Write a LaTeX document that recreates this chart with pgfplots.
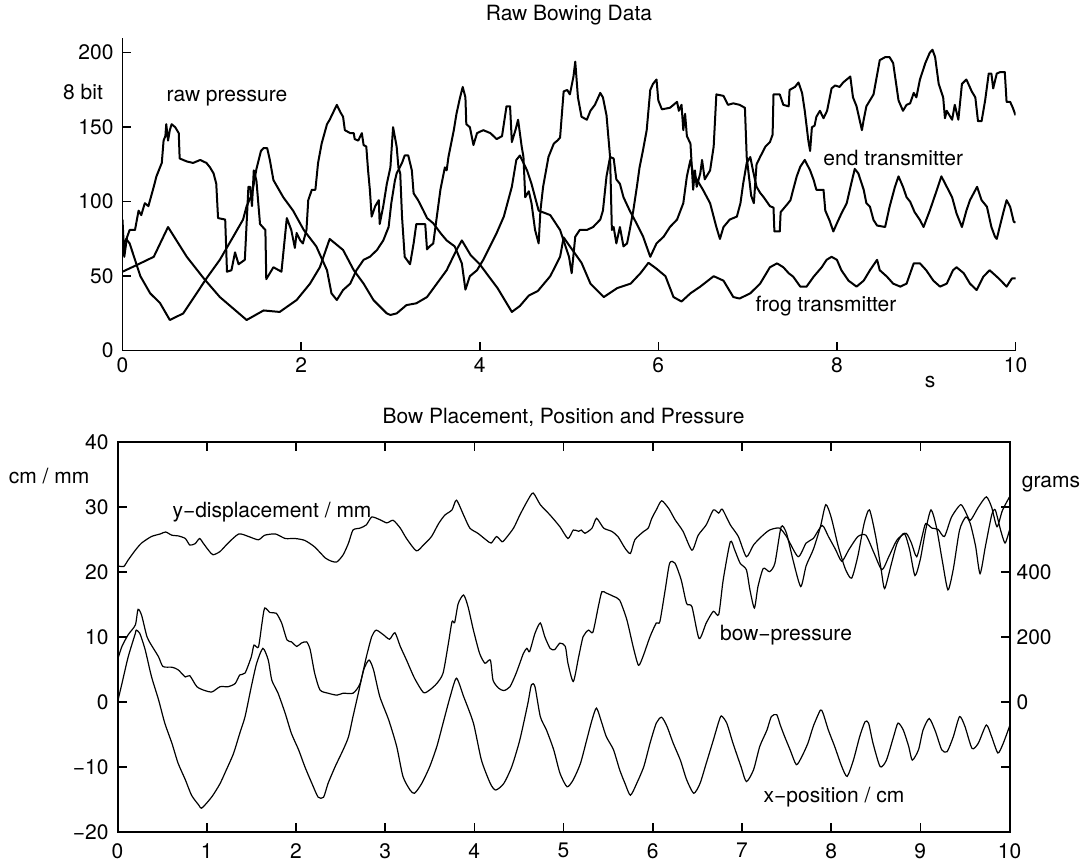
\documentclass[border=0pt]{standalone}
\usepackage{fontspec}
\setmainfont{TeX Gyre Heros}
\usepackage{pgfplots}
\pgfplotsset{compat=1.18}
\newcommand\fs{\fontsize{10.5}{12.6}\selectfont}
\begin{document}
\begin{tikzpicture}
\useasboundingbox (0,0) rectangle (543pt,432.5pt);
% ---------------- top axis ----------------
\begin{axis}[
  at={(61.25pt,257.15pt)}, anchor=south west,
  scale only axis, width=446.5pt, height=156.45pt,
  xmin=0, xmax=10, ymin=0, ymax=210,
  axis lines=left, axis line style={-, line width=0.8pt},
  tick align=inside, major tick length=4.5pt, tick style={line width=0.8pt, black},
  xtick={0,2,4,6,8,10}, ytick={0,50,100,150,200},
  xticklabels={0,2,4,6,8,10}, yticklabels={0,50,100,150,200},
  ticklabel style={font=\fs},
  yticklabel style={xshift=-1pt},
]
% raw pressure
\addplot[black, line width=1pt, line join=round] coordinates {
(0,88)(0.02,63)(0.05,76)(0.08,81)(0.14,81)(0.18,94)(0.21,91)(0.25,99)(0.29,97)(0.35,110)(0.38,117)(0.42,123)(0.44,126)(0.46,141)(0.48,144)(0.49,152)(0.51,141)(0.53,148)(0.55,152)(0.59,150)(0.63,146)(0.64,129)(0.72,127)(0.79,126)(0.87,128)(0.94,126)(0.98,123)(1.02,119)(1.05,112)(1.07,89)(1.15,88)(1.17,53)(1.22,54)(1.26,66)(1.3,58)(1.37,61)(1.41,110)(1.43,110)(1.45,97)(1.47,121)(1.5,114)(1.54,85)(1.6,81)(1.61,48)(1.69,56)(1.78,53)(1.84,89)(1.89,81)(1.93,69)(1.95,79)(1.99,74)(2.02,72)(2.06,81)(2.08,101)(2.12,108)(2.16,108)(2.19,126)(2.23,139)(2.29,152)(2.32,155)(2.4,165)(2.44,160)(2.47,157)(2.49,148)(2.55,146)(2.59,146)(2.6,142)(2.64,141)(2.68,146)(2.7,138)(2.73,137)(2.75,121)(2.77,108)(2.79,90)(2.83,97)(2.87,101)(2.88,85)(2.92,97)(2.96,112)(3.0,123)(3.03,150)(3.07,137)(3.09,123)(3.11,119)(3.13,90)(3.16,63)(3.22,58)(3.26,72)(3.29,85)(3.39,85)(3.41,68)(3.44,70)(3.48,72)(3.52,90)(3.56,108)(3.59,117)(3.61,123)(3.63,121)(3.65,130)(3.71,148)(3.74,159)(3.78,170)(3.81,177)(3.84,170)(3.85,152)(3.89,150)(3.93,138)(3.97,146)(4.04,148)(4.12,146)(4.19,142)(4.25,144)(4.3,164)(4.34,164)(4.36,140)(4.4,148)(4.43,155)(4.47,137)(4.49,130)(4.51,103)(4.55,107)(4.58,99)(4.62,81)(4.66,72)(4.68,94)(4.71,110)(4.77,130)(4.83,139)(4.87,141)(4.9,143)(4.94,174)(4.98,175)(5.01,172)(5.05,184)(5.07,194)(5.1,170)(5.14,157)(5.2,155)(5.24,161)(5.29,165)(5.35,173)(5.38,170)(5.42,158)(5.46,130)(5.48,81)(5.5,83)(5.53,72)(5.57,83)(5.61,70)(5.65,72)(5.68,81)(5.72,94)(5.76,110)(5.79,123)(5.83,135)(5.87,148)(5.91,175)(5.94,179)(5.98,182)(6.0,168)(6.04,162)(6.13,163)(6.21,167)(6.23,161)(6.26,165)(6.28,148)(6.3,159)(6.32,144)(6.36,139)(6.39,108)(6.41,121)(6.43,110)(6.47,119)(6.49,128)(6.52,115)(6.58,121)(6.62,137)(6.65,172)(6.73,171)(6.78,165)(6.84,166)(6.91,165)(6.97,163)(6.99,130)(7.04,104)(7.07,99)(7.1,125)(7.14,130)(7.2,137)(7.25,140)(7.28,145)(7.29,172)(7.36,172)(7.4,165)(7.46,164)(7.47,175)(7.53,177)(7.57,180)(7.61,173)(7.64,161)(7.68,141)(7.7,134)(7.72,150)(7.75,151)(7.77,157)(7.81,161)(7.85,156)(7.89,161)(7.94,176)(7.98,178)(8.03,177)(8.07,180)(8.11,182)(8.15,184)(8.18,170)(8.22,164)(8.28,148)(8.3,155)(8.33,164)(8.37,168)(8.41,172)(8.48,195)(8.54,197)(8.59,197)(8.63,193)(8.69,168)(8.74,161)(8.78,165)(8.82,166)(8.86,173)(8.89,170)(8.93,182)(8.99,193)(9.04,200)(9.07,202)(9.1,197)(9.14,179)(9.19,170)(9.21,156)(9.23,161)(9.29,155)(9.32,165)(9.36,155)(9.4,179)(9.45,182)(9.51,174)(9.55,170)(9.58,154)(9.62,154)(9.66,168)(9.7,186)(9.73,186)(9.75,176)(9.79,186)(9.83,187)(9.88,187)(9.9,167)(9.94,167)(9.97,163)(10,158)
};
% end transmitter
\addplot[black, line width=1pt, line join=round] coordinates {
(0,70)(0.04,75)(0.08,72)(0.2,50)(0.31,38.5)(0.42,32)(0.53,20.6)(0.68,25)(0.83,38.5)(0.94,48.5)(1.09,61)(1.24,76.5)(1.35,88)(1.39,97)(1.45,105)(1.5,122)(1.55,134)(1.58,136)(1.62,136)(1.65,128)(1.69,114.5)(1.8,103)(1.91,94)(2.03,81)(2.17,70)(2.29,54)(2.34,38.5)(2.4,34)(2.47,40.7)(2.55,45)(2.62,54)(2.7,61)(2.77,63)(2.85,67.6)(2.92,74)(2.98,83)(3.01,99)(3.05,114)(3.07,119)(3.13,126)(3.16,131)(3.2,131)(3.24,121)(3.26,105.6)(3.31,101)(3.37,94)(3.41,89)(3.48,85.5)(3.56,79)(3.63,74)(3.72,70)(3.8,58.6)(3.84,41)(3.89,50)(3.97,54)(4.04,61)(4.19,79)(4.27,90)(4.36,110)(4.41,128)(4.45,131)(4.49,126)(4.53,121)(4.58,112)(4.62,103)(4.66,94)(4.79,91)(4.9,81)(5.0,63)(5.03,52)(5.07,76.5)(5.12,81)(5.2,81)(5.27,83)(5.35,88)(5.38,94)(5.42,117)(5.46,130)(5.5,129)(5.53,115)(5.57,112)(5.61,103)(5.68,94)(5.76,85)(5.83,76.5)(5.91,63)(5.98,72)(6.06,76.5)(6.13,83)(6.21,88)(6.28,99)(6.32,117)(6.36,128)(6.39,119)(6.43,115)(6.5,108)(6.58,99)(6.65,83)(6.69,75)(6.73,83)(6.8,88)(6.88,90)(6.92,99)(6.95,112)(6.99,126)(7.03,130)(7.06,121)(7.1,110)(7.14,106)(7.18,103)(7.25,97)(7.29,96)(7.3,80)(7.36,80)(7.37,93)(7.44,98)(7.48,101)(7.51,108)(7.55,117)(7.59,123.5)(7.64,128)(7.7,121)(7.74,114.5)(7.77,108)(7.85,108)(7.87,94)(7.92,87)(7.96,80)(8.0,85.5)(8.05,92)(8.11,99)(8.16,112)(8.2,122)(8.24,119)(8.3,108)(8.33,99)(8.37,96.6)(8.41,87.7)(8.45,84)(8.54,83)(8.59,96.6)(8.65,110)(8.69,117)(8.74,110)(8.78,103)(8.82,100)(8.87,93)(8.93,87.7)(8.97,83)(9.04,94)(9.12,108)(9.17,117)(9.23,110)(9.29,103)(9.34,92)(9.4,83)(9.45,94)(9.49,101)(9.57,110)(9.62,101)(9.68,96.6)(9.73,83)(9.77,76.5)(9.79,75)(9.86,92)(9.9,101)(9.94,96.6)(9.98,86.6)(10,86)
};
% frog transmitter
\addplot[black, line width=1pt, line join=round] coordinates {
(0,53)(0.16,57.5)(0.35,63)(0.51,83)(0.72,63)(0.91,48.5)(1.09,36)(1.39,20.6)(1.58,27)(1.76,26)(1.95,34)(2.1,45)(2.21,56)(2.32,75)(2.47,67.6)(2.59,54)(2.7,45)(2.81,34)(2.96,25)(3.0,24)(3.07,25)(3.18,30.6)(3.29,31.8)(3.41,36)(3.52,45)(3.63,54)(3.74,67.6)(3.8,74)(3.9,64)(4.0,58)(4.1,50)(4.2,42)(4.3,32)(4.36,26)(4.45,30)(4.55,37)(4.65,40)(4.79,50)(4.9,63)(4.94,76)(5.01,70)(5.14,59)(5.24,45)(5.39,36)(5.54,42)(5.69,45)(5.8,52)(5.89,59)(5.98,55)(6.08,50)(6.17,36)(6.26,33)(6.36,38.5)(6.47,43)(6.62,50)(6.73,47)(6.84,36)(6.91,35)(7.03,38.5)(7.14,45)(7.25,56)(7.33,58.6)(7.4,56)(7.46,52)(7.51,49.7)(7.59,43)(7.66,43)(7.74,49.7)(7.83,56)(7.885,61)(7.94,63)(8.0,61)(8.05,54)(8.13,47)(8.22,43)(8.3,47)(8.37,54)(8.45,61)(8.48,54)(8.56,49.7)(8.63,45)(8.71,43)(8.78,45)(8.86,58.6)(8.93,58.6)(9.0,54)(9.08,47)(9.155,43)(9.23,45)(9.3,54)(9.34,56)(9.42,52)(9.49,45)(9.565,40.7)(9.64,49.7)(9.71,54)(9.79,49.7)(9.83,47.4)(9.9,43)(9.96,48.5)(10,48.5)
};
\end{axis}
% ---------------- bottom axis ----------------
\begin{axis}[
  at={(58.75pt,16.35pt)}, anchor=south west,
  scale only axis, width=446pt, height=195pt,
  xmin=0, xmax=10, ymin=-20, ymax=40,
  axis line style={line width=1pt},
  tick align=inside, major tick length=4.5pt, tick style={line width=0.8pt, black},
  xtick={0,1,2,3,4,5,6,7,8,9,10}, xticklabels={0,1,2,3,4,5,6,7,8,9,10},
  ytick={-20,-10,0,10,20,30,40}, yticklabels={−20,−10,0,10,20,30,40},
  xtick pos=both, ytick pos=left,
  ticklabel style={font=\fs},
  xticklabel style={yshift=-2pt},
  yticklabel style={xshift=-1pt},
]
% y-displacement
\addplot[black, line width=0.6pt, smooth, tension=0.4] coordinates {
(0,21)(0.07,20.9)(0.12,21.9)(0.2,23.4)(0.27,24.5)(0.38,25.5)(0.48,25.9)(0.54,26.2)(0.61,25.7)(0.68,25.6)(0.76,25.2)(0.81,24.2)(0.87,24.4)(0.92,25.2)(0.96,24.5)(1.02,23.4)(1.07,22.7)(1.15,23.2)(1.24,24.5)(1.36,25.9)(1.47,25.5)(1.58,25)(1.65,25.7)(1.77,25.9)(1.88,25.2)(1.99,25.2)(2.1,24.9)(2.21,23.9)(2.33,22.2)(2.4,21.7)(2.46,21.6)(2.53,22.7)(2.59,24.5)(2.64,26.5)(2.72,26.8)(2.79,27.3)(2.85,28.5)(2.94,28.1)(3.02,27.6)(3.09,28)(3.17,26.8)(3.24,25.2)(3.35,23.3)(3.43,24.2)(3.52,25.5)(3.6,27.5)(3.67,28.8)(3.75,29.6)(3.8,31.1)(3.88,28.8)(3.95,26.8)(4.04,26)(4.14,24.9)(4.19,24.5)(4.25,25.5)(4.31,24.7)(4.34,25)(4.44,26.8)(4.51,28.8)(4.6,31.1)(4.66,32.2)(4.74,30.4)(4.85,28.8)(4.96,27)(5.05,25.2)(5.11,26.5)(5.17,26.3)(5.2,26.5)(5.24,26)(5.32,26.8)(5.37,28.3)(5.45,26.8)(5.54,26.3)(5.61,25.5)(5.69,23.7)(5.75,22.9)(5.8,25)(5.9,26.3)(5.95,26.8)(5.99,28.3)(6.04,29.6)(6.1,31)(6.18,29.8)(6.25,28.1)(6.34,26.3)(6.44,23.4)(6.51,25.7)(6.6,27.3)(6.68,29.6)(6.74,29.1)(6.78,29.7)(6.87,27.3)(6.96,25.5)(7.05,22.4)(7.13,24.2)(7.22,25.5)(7.31,26.5)(7.42,26.8)(7.5,25.5)(7.63,22.4)(7.72,24.5)(7.8,25.2)(7.9,27.2)(7.97,25.5)(8.05,23.5)(8.12,21.7)(8.2,23.5)(8.3,25.5)(8.39,25.7)(8.48,23)(8.57,20.4)(8.65,22.5)(8.74,25)(8.84,26)(8.9,24.5)(8.96,22.4)(9.02,25.5)(9.06,27.5)(9.13,26.8)(9.2,26.6)(9.27,25.5)(9.35,28.5)(9.45,30.4)(9.5,29.5)(9.56,28)(9.65,30)(9.74,31.6)(9.8,30)(9.86,27)(9.92,29.5)(10,31.6)
};
% bow-pressure
\addplot[black, line width=0.6pt, smooth, tension=0.4] coordinates {
(0,6.5)(0.05,8.6)(0.12,10.4)(0.2,11.9)(0.23,14.3)(0.27,13.4)(0.33,10.1)(0.38,8.8)(0.46,7)(0.51,5.5)(0.61,5.4)(0.68,5)(0.76,3.9)(0.81,4.1)(0.89,2.4)(0.98,1.8)(1.06,1.6)(1.15,2.4)(1.24,2.4)(1.32,2.9)(1.37,4.2)(1.43,4.5)(1.5,7)(1.53,8.8)(1.58,8.5)(1.62,12.2)(1.65,14.5)(1.71,13.8)(1.78,13.7)(1.84,12.2)(1.9,9.6)(1.95,9.3)(2.01,8.6)(2.06,9.1)(2.12,9.3)(2.16,8.1)(2.21,4.5)(2.27,1.9)(2.36,1.4)(2.46,1.1)(2.53,1.4)(2.64,1.4)(2.72,2.9)(2.79,7)(2.85,10.1)(2.9,11.1)(2.98,10.4)(3.05,9.7)(3.11,10.7)(3.17,8.6)(3.24,6.5)(3.33,3.7)(3.43,1.5)(3.5,1.9)(3.58,2.9)(3.65,4.5)(3.71,9.1)(3.75,12.4)(3.78,12.3)(3.82,15.2)(3.88,16.5)(3.93,14.7)(3.99,11.1)(4.06,7.5)(4.12,6)(4.18,6.5)(4.21,3.4)(4.27,2.2)(4.33,1.8)(4.4,2.4)(4.47,4.5)(4.55,7.5)(4.59,8.3)(4.62,7.8)(4.68,10.6)(4.74,12.2)(4.79,10.1)(4.85,8.3)(4.9,8.1)(4.96,9.1)(5.02,8.6)(5.05,6)(5.11,3.2)(5.17,7)(5.22,10.1)(5.28,11.1)(5.33,10.8)(5.39,14.7)(5.43,17)(5.48,16.8)(5.56,16.3)(5.63,15.7)(5.71,12.7)(5.78,8.6)(5.84,5.7)(5.89,7)(5.97,10.1)(6.04,12.2)(6.08,12.4)(6.14,17.3)(6.19,21.4)(6.25,21.4)(6.32,18.8)(6.38,15.2)(6.44,14.7)(6.52,9.8)(6.6,12.2)(6.68,14)(6.74,13.5)(6.79,18.8)(6.87,24.7)(6.92,23.4)(6.98,21.4)(7.05,20.4)(7.09,17.3)(7.14,14.5)(7.18,17.8)(7.24,20.6)(7.31,20.1)(7.37,21.4)(7.44,27)(7.5,26)(7.58,21.5)(7.66,17.8)(7.72,21)(7.8,23.5)(7.88,27)(7.94,30.4)(8.0,28.5)(8.08,24)(8.16,20.5)(8.23,19.1)(8.3,22.5)(8.37,27.5)(8.43,29.6)(8.5,25.5)(8.56,20.5)(8.6,17.5)(8.67,21)(8.74,24.5)(8.82,26)(8.88,23.5)(8.94,19.5)(9.0,22)(9.06,26.5)(9.12,29.6)(9.18,27)(9.25,21.5)(9.31,17.3)(9.37,20.5)(9.44,26.5)(9.51,28.5)(9.56,27.5)(9.62,24)(9.67,19.8)(9.73,24)(9.8,28.8)(9.84,29.6)(9.9,26.5)(9.95,24.5)(10,26.5)
};
% x-position
\addplot[black, line width=0.6pt, smooth, tension=0.4] coordinates {
(0,0)(0.05,2.9)(0.12,7)(0.2,10.6)(0.21,11.1)(0.25,10.6)(0.31,8.1)(0.38,4)(0.46,0.4)(0.53,-3.2)(0.61,-6.3)(0.68,-9.4)(0.76,-11.9)(0.83,-14.3)(0.91,-15.8)(0.94,-16.3)(1.0,-15.5)(1.07,-14.3)(1.15,-12.5)(1.22,-10.4)(1.3,-7.9)(1.37,-4.8)(1.43,-2.2)(1.5,2.4)(1.56,6)(1.63,8.3)(1.69,6.5)(1.73,3.4)(1.8,1.4)(1.88,-1.7)(1.95,-4.8)(2.03,-7.3)(2.1,-9.9)(2.18,-12.5)(2.25,-14.6)(2.31,-14.6)(2.36,-12.5)(2.44,-9.9)(2.53,-7.3)(2.59,-5.3)(2.64,-2.2)(2.7,1.4)(2.76,5)(2.82,6.5)(2.87,5)(2.94,0.9)(3.04,-2.7)(3.13,-6.8)(3.2,-11.4)(3.28,-13.5)(3.33,-14)(3.41,-12.5)(3.5,-9.9)(3.58,-6.8)(3.65,-3.2)(3.73,0.9)(3.8,3.7)(3.88,0.9)(3.99,-3.2)(4.08,-8.9)(4.18,-12.5)(4.24,-13.5)(4.33,-12.5)(4.42,-9.9)(4.51,-5.8)(4.6,-0.2)(4.64,2.7)(4.68,2.4)(4.74,-2.2)(4.81,-4.3)(4.89,-7.3)(4.96,-10.9)(5.04,-13)(5.11,-11.9)(5.19,-9.4)(5.26,-5.8)(5.32,-2.7)(5.37,-0.9)(5.43,-3.2)(5.48,-5.3)(5.56,-7.3)(5.63,-10.4)(5.69,-12.5)(5.75,-14.3)(5.82,-12.5)(5.9,-9.9)(5.97,-6.3)(6.04,-3.2)(6.1,-2.3)(6.16,-3.7)(6.23,-6.3)(6.31,-8.9)(6.38,-11.9)(6.46,-14)(6.53,-12.5)(6.6,-9.4)(6.68,-5.8)(6.74,-3)(6.77,-2.1)(6.83,-3.2)(6.9,-6.3)(6.99,-9.9)(7.05,-12.2)(7.13,-10.4)(7.2,-6.8)(7.28,-4.3)(7.33,-2.2)(7.39,-1.9)(7.43,-3.5)(7.48,-5.3)(7.54,-7.3)(7.61,-9.6)(7.67,-8.4)(7.74,-6.3)(7.8,-3.7)(7.88,-1.2)(7.91,-1.7)(7.97,-4.3)(8.04,-6.8)(8.12,-9.9)(8.18,-11.4)(8.25,-8.9)(8.32,-5.3)(8.38,-3)(8.42,-3.2)(8.47,-6.3)(8.55,-9.9)(8.62,-8.9)(8.7,-5.3)(8.75,-3.2)(8.81,-4.3)(8.87,-6.8)(8.91,-8.9)(8.98,-7.3)(9.03,-4.3)(9.1,-2.5)(9.17,-4.5)(9.24,-7.3)(9.3,-7.6)(9.37,-5.3)(9.44,-2.2)(9.5,-3.7)(9.58,-7.1)(9.65,-6.3)(9.74,-3.5)(9.8,-5.3)(9.87,-7.8)(9.93,-6.3)(10,-3.7)
};
\end{axis}
% right-hand grams scale
\begin{axis}[
  at={(58.75pt,16.35pt)}, anchor=south west,
  scale only axis, width=446pt, height=195pt,
  xmin=0, xmax=10, ymin=-400, ymax=800,
  axis x line=none, axis y line=right, axis line style={-, line width=1pt},
  tick align=inside, major tick length=4.5pt, tick style={line width=0.8pt, black},
  ytick={-200,0,200,400,600}, yticklabels={{},0,200,400,{}},
  ticklabel style={font=\fs},
]
\end{axis}
% ---------------- texts ----------------
\node[font=\fs] at (284.5pt,425pt) {Raw Bowing Data};
\node[font=\fs] at (41.5pt,386.5pt) {8 bit};
\node[font=\fs] at (113.5pt,383.3pt) {raw pressure};
\node[font=\fs] at (446.6pt,353.3pt) {end transmitter};
\node[font=\fs] at (413pt,279.5pt) {frog transmitter};
\node[font=\fs] at (465pt,241.5pt) {s};
\node[font=\fs] at (281.75pt,223.6pt) {Bow Placement, Position and Pressure};
\node[font=\fs] at (24.5pt,194.5pt) {cm / mm};
\node[font=\fs] at (525.5pt,190.5pt) {grams};
\node[font=\fs] at (136pt,176.2pt) {y−displacement / mm};
\node[font=\fs] at (393pt,115pt) {bow−pressure};
\node[font=\fs] at (417pt,34pt) {x−position / cm};
\end{tikzpicture}
\end{document}
